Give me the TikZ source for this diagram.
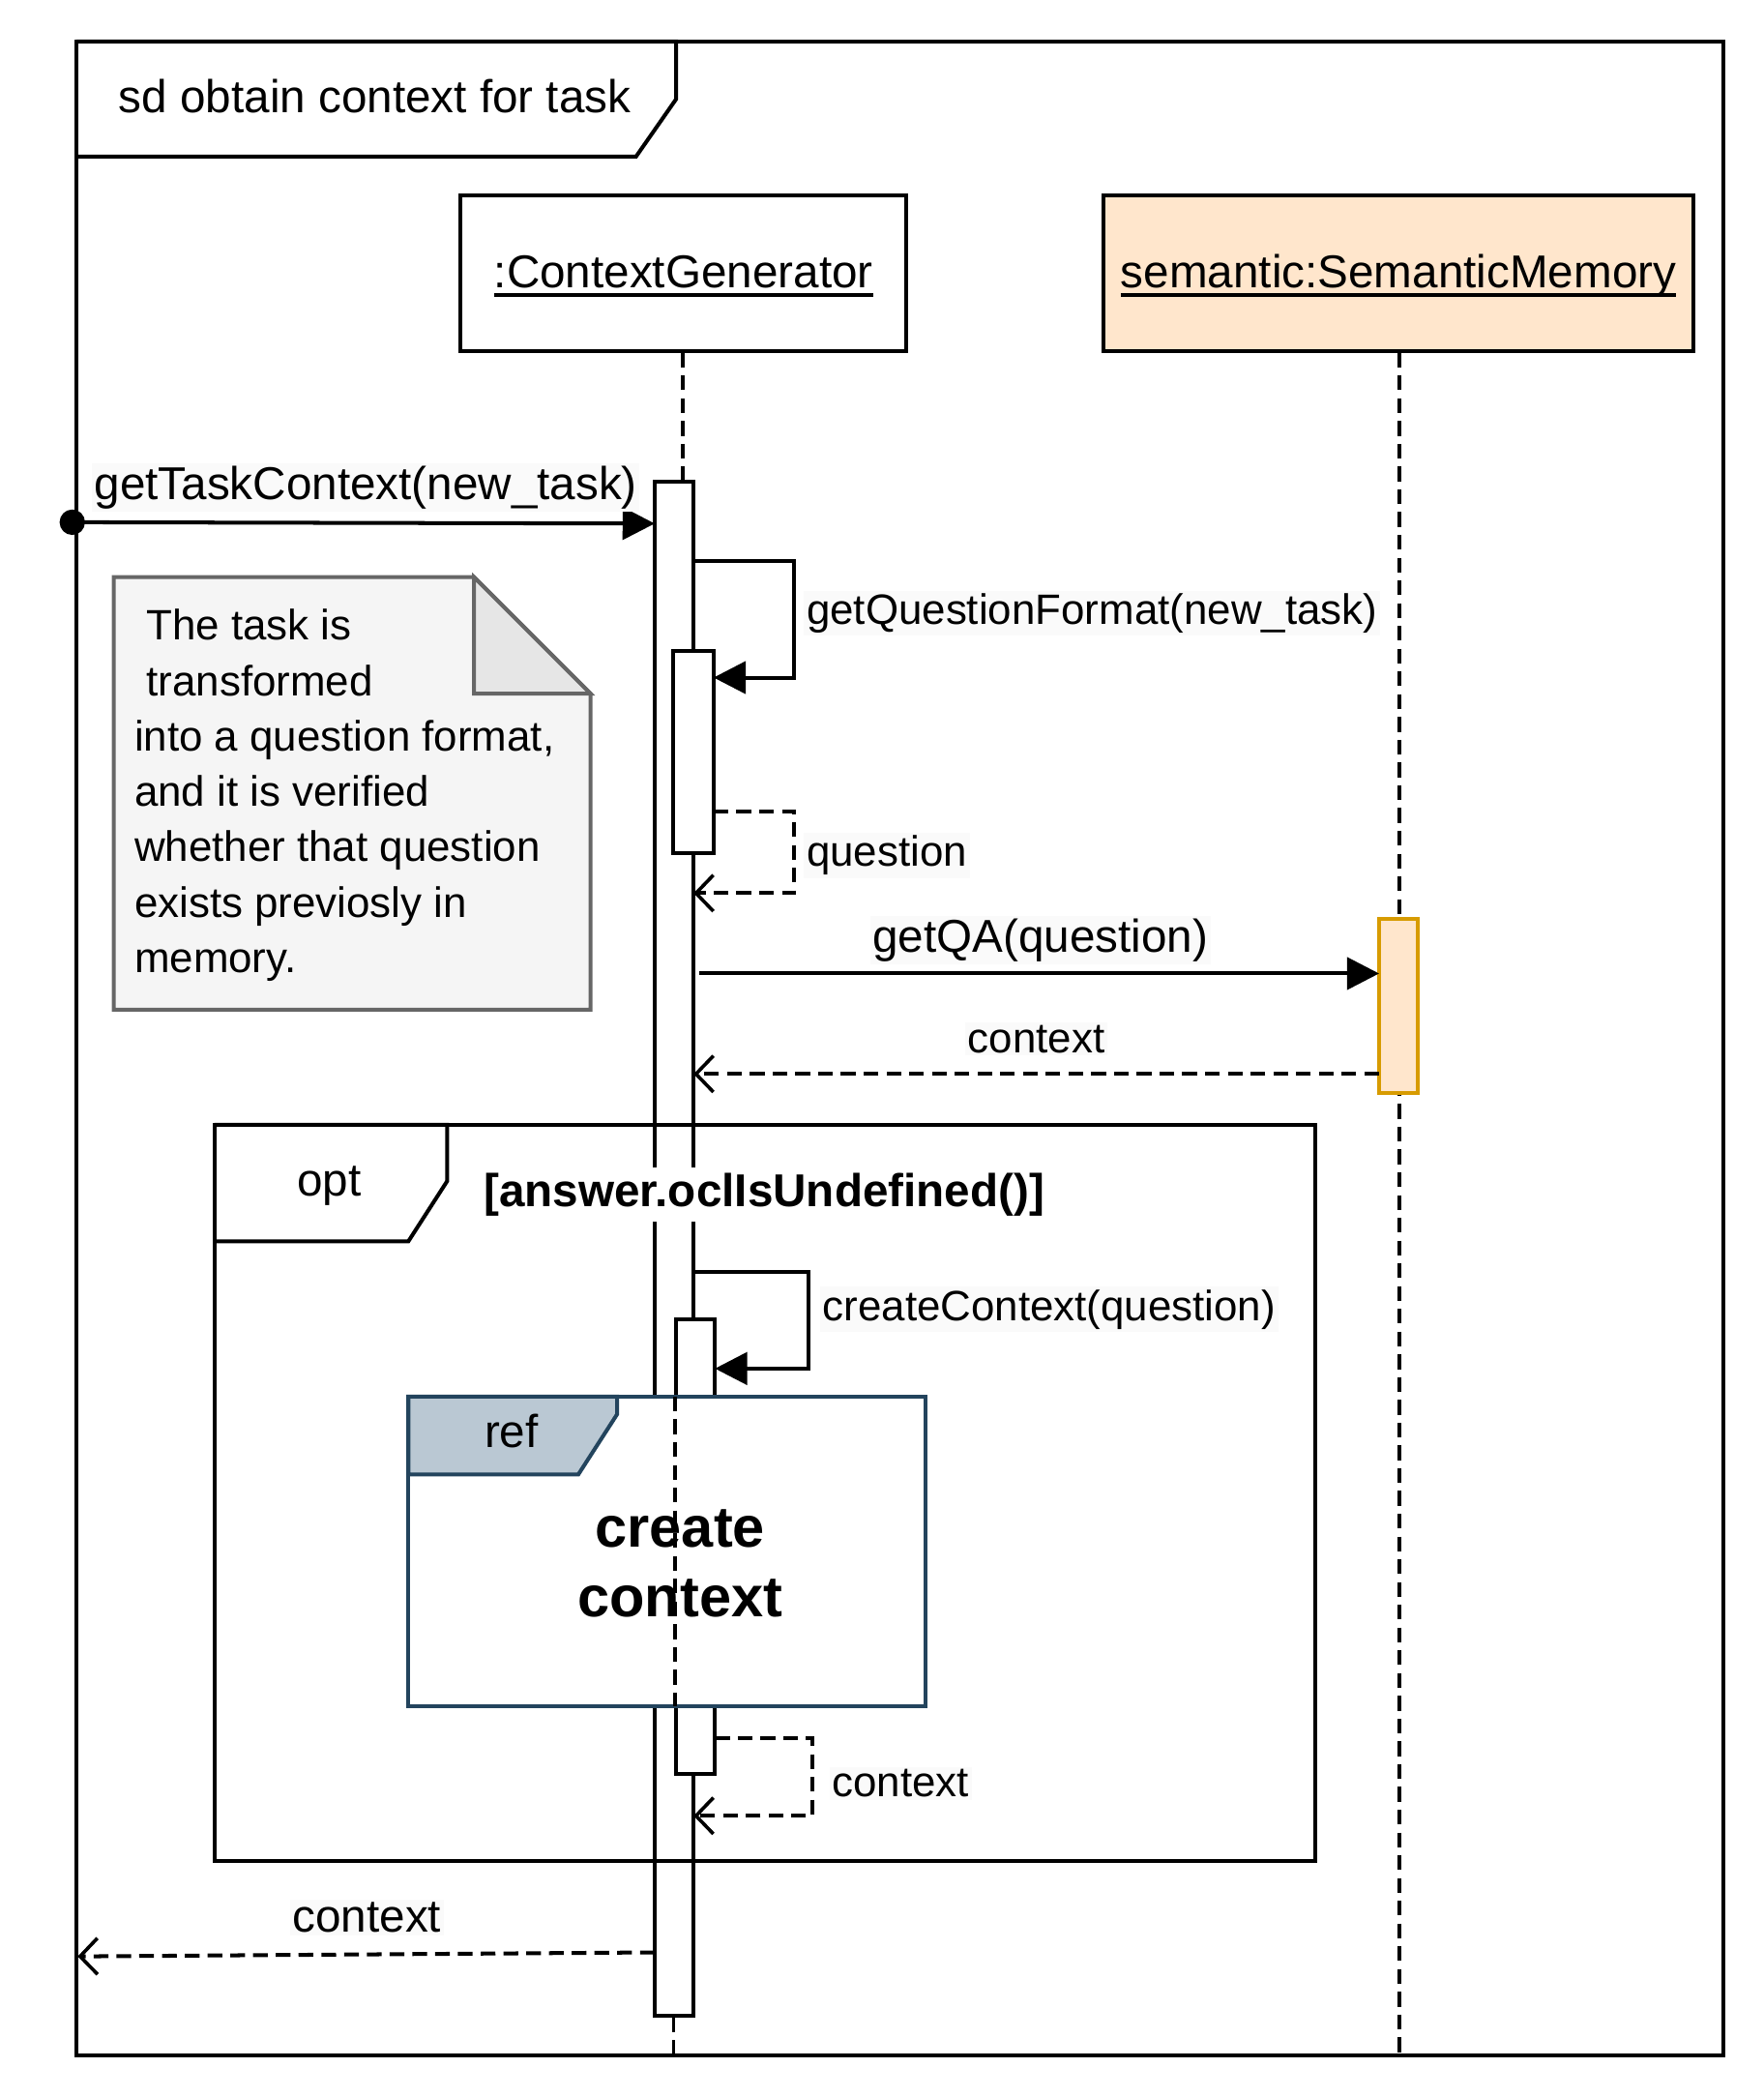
\documentclass[tikz,border=0pt]{standalone}
\usepackage{fontspec}
\setmainfont{Liberation Sans}
\usetikzlibrary{arrows.meta}
\definecolor{memfill}{HTML}{FFE6CC}
\definecolor{memline}{HTML}{D79B00}
\definecolor{notefill}{HTML}{F5F5F5}
\definecolor{noteline}{HTML}{666666}
\definecolor{foldfill}{HTML}{E6E6E6}
\definecolor{refline}{HTML}{23445D}
\definecolor{reffill}{HTML}{BAC8D3}
\definecolor{lblbg}{HTML}{FAFAFA}
\newcommand\fbig{\fontsize{17.2}{20.6}\selectfont}
\newcommand\fsmall{\fontsize{15.85}{19}\selectfont}
\newcommand\fhuge{\fontsize{21.5}{26}\selectfont}
\newcommand\myul[1]{\setbox0\hbox{#1}\rlap{\vrule height -2.2pt depth 3.3pt width \wd0}\box0}
\begin{document}
\begin{tikzpicture}[x=0.5pt,y=-0.5pt,line width=1.45pt,
  lbl/.style={inner sep=1pt,fill=lblbg},
  txt/.style={inner sep=0pt},
  bar/.style={draw,fill=white,minimum width=14.5pt,inner sep=0pt},
  hdr/.style={draw,minimum height=58pt,inner sep=0pt,font=\fbig,text height=12.4pt,text depth=1.6pt},
  lifeln/.style={line width=1.3pt,dash pattern=on 5.5pt off 3pt},
  call/.style={-{Triangle[length=12pt,width=12pt]}},
  ret/.style={dash pattern=on 5.5pt off 3pt,-{Straight Barb[length=6.5pt,width=13.5pt,line width=1.3pt]}},
]
\useasboundingbox (0,0) rectangle (1317,1566);
\fill[white] (0,0) rectangle (1317,1566);

% outer frame
\draw (57,31) rectangle (1287,1535);
\draw (57,31) -- (505,31) -- (505,74) -- (475,117) -- (57,117);
\node[txt,anchor=base,font=\fbig] (title) at (280,84) {sd obtain context for task};

% headers
\node[hdr,minimum width=166.5pt] (cg) at (510.5,204) {\myul{:ContextGenerator}};
\node[hdr,minimum width=220.5pt,fill=memfill] (sm) at (1044.5,204) {\myul{semantic:SemanticMemory}};

% lifelines
\coordinate (cgtop) at (510,360);
\coordinate (smbot) at (1045,1535);
\draw[lifeln] (cg.south -| cgtop) -- (cgtop);
\draw[lifeln] (sm.south -| smbot) -- (smbot);

% note
\draw[noteline,fill=notefill] (85,431) -- (354,431) -- (441,518) -- (441,754) -- (85,754) -- cycle;
\draw[noteline,fill=foldfill] (354,431) -- (354,518) -- (441,518) -- cycle;
\node[txt,anchor=base west,font=\fsmall] (n1) at (108,478) {The task is};
\node[txt,anchor=base west,font=\fsmall] (n2) at (108,520) {transformed};
\node[txt,anchor=base west,font=\fsmall] (n3) at (99,561) {into a question format,};
\node[txt,anchor=base west,font=\fsmall] (n4) at (99,602) {and it is verified};
\node[txt,anchor=base west,font=\fsmall] (n5) at (99,643) {whether that question};
\node[txt,anchor=base west,font=\fsmall] (n6) at (99,685) {exists previosly in};
\node[txt,anchor=base west,font=\fsmall] (n7) at (99,726) {memory.};

% activation bars
\node[bar,minimum height=572.5pt] (b1) at (503.5,932.5) {};
\node[bar,minimum height=75.5pt,minimum width=15pt] (nb1) at (518,561.5) {};
\node[bar,minimum height=170pt] (nb2) at (519.5,1155) {};
\node[bar,minimum height=65pt,draw=memline,fill=memfill] (sb) at (1044.5,751) {};
\coordinate (cgbot) at (503,1535);
\draw[lifeln] (b1.south -| cgbot) -- (cgbot);

% messages
\node[circle,fill,inner sep=0pt,minimum size=9.5pt] (dot) at (54,390) {};
\coordinate (m1e) at (489,391);
\draw[call] (dot.center) -- (m1e);
\node[lbl,anchor=base west,font=\fbig] (l1) at (67,373) {getTaskContext(new\_task)};

\coordinate (m2s) at (518,419);
\coordinate (m2e) at (533,506);
\draw[call] (m2s) -- ++(75,0) |- (m2e);
\node[lbl,anchor=base west,font=\fsmall] (l2) at (599,466) {getQuestionFormat(new\_task)};

\coordinate (m3s) at (533,606);
\coordinate (m3e) at (518,667);
\draw[ret] (m3s) -- ++(60,0) |- (m3e);
\node[lbl,anchor=base west,font=\fsmall] (l3) at (599,647) {question};

\coordinate (m4s) at (522,727);
\coordinate (m4e) at (1030,727);
\draw[call] (m4s) -- (m4e);
\node[lbl,anchor=base,font=\fbig] (l4) at (777,711) {getQA(question)};

\coordinate (m5s) at (1030,802);
\coordinate (m5e) at (518,802);
\draw[ret] (m5s) -- (m5e);
\node[lbl,anchor=base,font=\fsmall] (l5) at (774,786) {context};

% opt fragment
\draw (160,840) rectangle (982,1390);
\draw (160,840) -- (334,840) -- (334,882) -- (305,927) -- (160,927);
\node[txt,anchor=base,font=\fbig] (opt) at (246,893) {opt};
\node[fill=white,inner xsep=0pt,inner ysep=2pt,anchor=base west,font=\fbig\bfseries] (guard) at (360,901) {[answer.oclIsUndefined()]};

\coordinate (m7s) at (518,950);
\coordinate (m7e) at (534,1022);
\draw[call] (m7s) -- ++(86,0) |- (m7e);
\node[lbl,anchor=base west,font=\fsmall] (l7) at (611,986) {createContext(question)};

% ref fragment
\draw[refline,fill=white] (305,1043) rectangle (691,1274);
\draw[refline,fill=reffill] (305,1043) -- (461,1043) -- (461,1056) -- (432,1101) -- (305,1101) -- cycle;
\node[txt,anchor=base,font=\fbig] (ref) at (382,1081) {ref};
\node[txt,anchor=base,font=\fhuge\bfseries] (rc1) at (508,1155) {create};
\node[txt,anchor=base,font=\fhuge\bfseries] (rc2) at (508,1207) {context};
\coordinate (rlt) at (504,1043);
\coordinate (rlb) at (504,1274);
\draw[lifeln] (rlt) -- (rlb);

\coordinate (m9s) at (534,1298);
\coordinate (m9e) at (518,1356);
\draw[ret] (m9s) -- ++(73,0) |- (m9e);
\node[lbl,anchor=base west,font=\fsmall] (l9) at (618,1342) {context};

\coordinate (m10s) at (489,1458);
\coordinate (m10e) at (58,1461);
\draw[ret] (m10s) -- (m10e);
\node[lbl,anchor=base,font=\fbig] (l10) at (274,1443) {context};
\end{tikzpicture}
\end{document}
